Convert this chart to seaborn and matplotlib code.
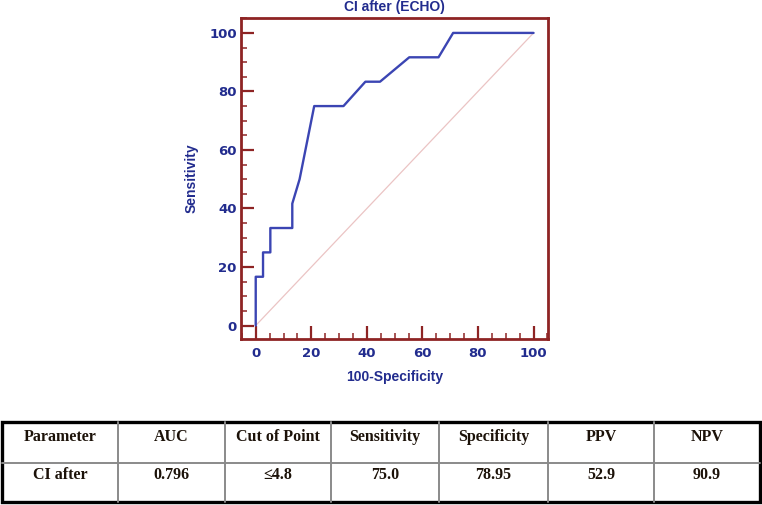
import numpy as np
import pandas as pd
import seaborn as sns
import matplotlib.pyplot as plt
from matplotlib.ticker import MultipleLocator
from matplotlib.patches import Rectangle

# ROC curve (100-Specificity, Sensitivity)
fpr = [0, 0, 2.63, 2.63, 5.26, 5.26, 13.16, 13.16, 15.79, 21.05,
       31.58, 39.47, 44.74, 55.26, 65.79, 71.05, 100]
tpr = [0, 16.67, 16.67, 25.0, 25.0, 33.33, 33.33, 41.67, 50.0, 75.0,
       75.0, 83.33, 83.33, 91.67, 91.67, 100, 100]
diag_x = [0, 100]
diag_y = [0, 100]

title = 'CI after (ECHO)'
xlabel = '100-Specificity'
ylabel = 'Sensitivity'

table_header = ['Parameter', 'AUC', 'Cut of Point', 'Sensitivity',
                'Specificity', 'PPV', 'NPV']
table_row = ['CI after', '0.796', '\u22644.8', '75.0', '78.95', '52.9', '90.9']

SPINE = '#8E2424'
NAVY = '#222C8E'
CURVE = '#3B45B3'
DIAG = '#EBC4C4'

sns.set_style('white')
plt.rcParams['font.family'] = ['Liberation Sans', 'DejaVu Sans']

W, H = 762, 505
fig = plt.figure(figsize=(W / 100, H / 100), dpi=100)

# ROC axes (pixel box -> figure fraction)
l, r, t, b = 241, 548, 18, 339
ax = fig.add_axes([l / W, 1 - b / H, (r - l) / W, (b - t) / H])

roc = pd.DataFrame({'fpr': fpr, 'tpr': tpr})
ax.plot(diag_x, diag_y, color=DIAG, lw=0.9, zorder=1)
sns.lineplot(data=roc, x='fpr', y='tpr', sort=False, estimator=None,
             color=CURVE, lw=1.7, ax=ax, zorder=2)

ax.set_xlim(-5.3, 105.2)
ax.set_ylim(-4.6, 105.1)
ax.xaxis.set_minor_locator(MultipleLocator(5))
ax.yaxis.set_minor_locator(MultipleLocator(5))
ax.set_xticks(np.arange(0, 101, 20))
ax.set_yticks(np.arange(0, 101, 20))

for s in ax.spines.values():
    s.set_color(SPINE)
    s.set_linewidth(2.0)

ax.tick_params(which='both', direction='in', color=SPINE, top=False, right=False,
               left=True, bottom=True)
ax.tick_params(which='major', length=9.5, width=1.6)
ax.tick_params(which='minor', length=4.5, width=1.1)
ax.tick_params(axis='x', which='major', pad=6, labelsize=9.5, labelcolor=NAVY)
ax.tick_params(axis='y', which='major', pad=3, labelsize=9.5, labelcolor=NAVY)
for lab in ax.get_xticklabels() + ax.get_yticklabels():
    lab.set_fontweight('bold')
    lab.set_family('DejaVu Sans')

ax.set_title(title, color=NAVY, fontsize=10, fontweight='bold', pad=5)
ax.set_xlabel(xlabel, color=NAVY, fontsize=10, fontweight='bold', labelpad=7)
ax.set_ylabel(ylabel, color=NAVY, fontsize=10, fontweight='bold', labelpad=8)

# Table below the chart
edges = [2, 118, 225, 331, 439, 548, 654, 760]
tt, tm, tb = 422, 463, 502
tax = fig.add_axes([0, 0, 1, 1])
tax.set_xlim(0, W)
tax.set_ylim(H, 0)
tax.axis('off')

for x in edges[1:-1]:
    tax.plot([x, x], [tt, tb], color='#8A8A8A', lw=1.4)
tax.plot([edges[0], edges[-1]], [tm, tm], color='#8A8A8A', lw=1.4)
tax.add_patch(Rectangle((edges[0], tt), edges[-1] - edges[0], tb - tt,
                        fill=False, ec='black', lw=2.4))

serif = ['Liberation Serif', 'DejaVu Serif']
for i in range(len(table_header)):
    cx = (edges[i] + edges[i + 1]) / 2
    tax.text(cx, 441, table_header[i], ha='center', va='baseline',
             fontsize=11.5, fontweight='bold', family=serif, color='#1c1209')
    tax.text(cx, 479, table_row[i], ha='center', va='baseline',
             fontsize=11.5, fontweight='bold', family=serif, color='#1c1209')

fig.savefig('out.png', dpi=100)
